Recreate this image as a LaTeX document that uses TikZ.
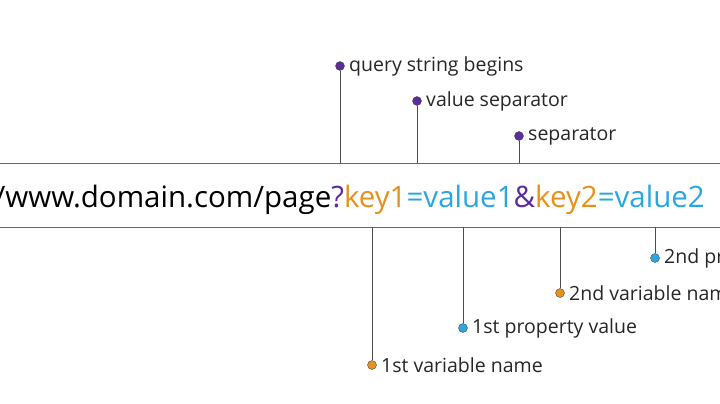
\documentclass[tikz,border=0pt]{standalone}
\usepackage{fontspec}
\setmainfont{Open Sans}
\usetikzlibrary{positioning}
\definecolor{qpurple}{HTML}{5B2C9E}
\definecolor{qorange}{HTML}{E8901E}
\definecolor{qblue}{HTML}{2AA7E0}
\begin{document}
\begin{tikzpicture}[x=1pt,y=-1pt,
    dot/.style={circle,draw=black!70,line width=0.4pt,inner sep=0pt,minimum size=9pt,fill=#1},
    tag/.style={right=1pt,font=\fontsize{19.5}{22}\selectfont,text=black!85},
    pin/.style={draw=black!70,line width=0.8pt}]
    \useasboundingbox (0,0) rectangle (720,404);
    % band
    \draw[black!60,line width=0.8pt] (0,163) -- (720,163) (0,227) -- (720,227);
    \node[anchor=base east,inner sep=0pt,font=\fontsize{29.5}{32}\selectfont] (url) at (705,207)
        {/www.domain.com/page\textcolor{qpurple}{?}\textcolor{qorange}{key1}\textcolor{qblue}{=value1}\textcolor{qpurple}{\&}\textcolor{qorange}{key2}\textcolor{qblue}{=value2}};

    % above
    \node[dot=qpurple] (q) at (340,66) {};
    \node[tag] at (q.east) {query string begins};
    \node[dot=qpurple] (vs) at (417,101) {};
    \node[tag] at (vs.east) {value separator};
    \node[dot=qpurple] (sp) at (519,136) {};
    \node[tag] at (sp.east) {separator};
    \coordinate (q0) at (340,163);
    \coordinate (vs0) at (417,163);
    \coordinate (sp0) at (519,163);
    \draw[pin] (q) -- (q0);
    \draw[pin] (vs) -- (vs0);
    \draw[pin] (sp) -- (sp0);

    % below
    \node[dot=qorange] (k1) at (372,365) {};
    \node[tag] at (k1.east) {1st variable name};
    \node[dot=qblue] (v1) at (463,328) {};
    \node[tag] at (v1.east) {1st property value};
    \node[dot=qorange] (k2) at (560,293) {};
    \node[tag] at (k2.east) {2nd variable name};
    \node[dot=qblue] (v2) at (655,258) {};
    \node[tag] at (v2.east) {2nd property value};
    \coordinate (k10) at (372,227);
    \coordinate (v10) at (463,227);
    \coordinate (k20) at (560,227);
    \coordinate (v20) at (655,227);
    \draw[pin] (k10) -- (k1);
    \draw[pin] (v10) -- (v1);
    \draw[pin] (k20) -- (k2);
    \draw[pin] (v20) -- (v2);
\end{tikzpicture}
\end{document}
